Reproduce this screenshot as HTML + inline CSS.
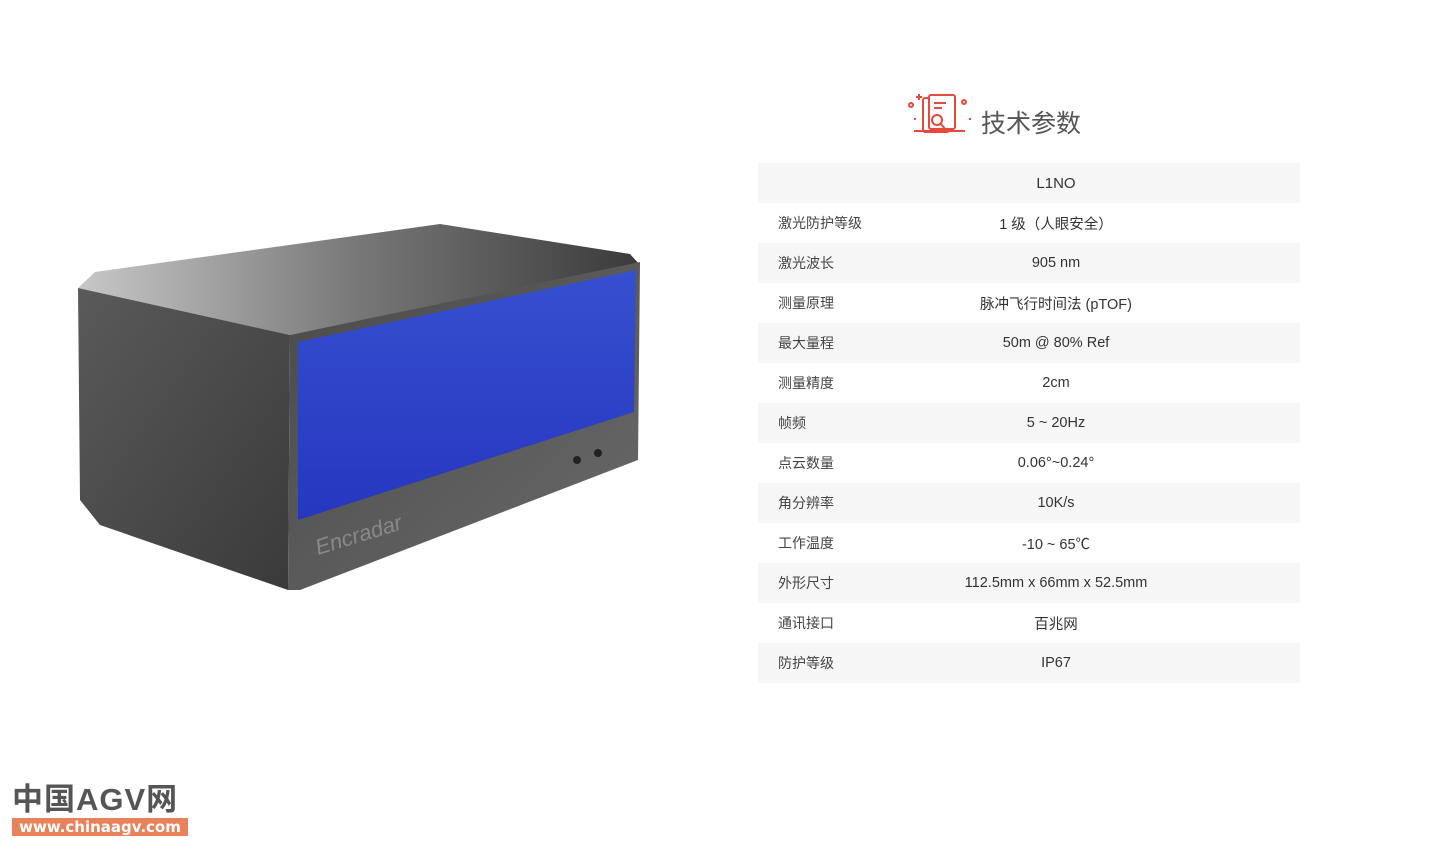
<!DOCTYPE html>
<html><head><meta charset="utf-8"><style>
body{margin:0;width:1440px;height:850px;background:#fff;position:relative;overflow:hidden;font-family:"Liberation Sans","Noto Sans CJK SC",sans-serif;}
.t{position:absolute;left:758px;top:163px;width:542px;}
.r{height:40px;display:flex;align-items:center;font-size:14px;color:#333;position:relative}
.r:nth-child(odd){background:#f6f6f6}
.l{width:188px;padding-left:20px;box-sizing:border-box;color:#444}
.v{position:absolute;left:0;width:596px;text-align:center;font-size:14.5px}
.title{position:absolute;left:981px;top:104px;font-size:25px;color:#555;font-family:"Noto Sans CJK SC",sans-serif;}
</style></head><body>
<svg style="position:absolute;left:905px;top:92px" width="70" height="46" viewBox="0 0 70 46">
<g stroke="#e8493f" fill="none" stroke-width="2">
<rect x="18" y="6" width="26" height="34" rx="2"/>
<rect x="24" y="3" width="26" height="34" rx="2" fill="#fff"/>
<line x1="29" y1="11" x2="41" y2="11"/><line x1="29" y1="16" x2="37" y2="16"/>
<circle cx="32" cy="28" r="5"/><line x1="36" y1="32" x2="41" y2="38"/>
<line x1="9" y1="39" x2="60" y2="39"/>
<circle cx="6" cy="13" r="2"/><circle cx="59" cy="10" r="2"/>
</g><g fill="#e8493f"><rect x="13" y="2" width="2" height="6"/><rect x="11" y="4" width="6" height="2"/><rect x="64" y="26" width="2" height="2"/><rect x="9" y="26" width="2" height="2"/></g>
</svg>
<div class="title">技术参数</div>
<svg style="position:absolute;left:0;top:0" width="700" height="620">
<defs>
<linearGradient id="top" x1="0" y1="0" x2="1" y2="0"><stop offset="0" stop-color="#c8c8c8"/><stop offset="0.5" stop-color="#777"/><stop offset="1" stop-color="#3a3a3a"/></linearGradient>
<linearGradient id="side" x1="0" y1="0" x2="1" y2="1"><stop offset="0" stop-color="#5a5a5a"/><stop offset="1" stop-color="#3a3a3a"/></linearGradient>
<linearGradient id="front" x1="0" y1="0" x2="1" y2="1"><stop offset="0" stop-color="#4a4a4a"/><stop offset="1" stop-color="#6a6a6a"/></linearGradient>
<linearGradient id="blue" x1="0" y1="0" x2="0" y2="1"><stop offset="0" stop-color="#3650d0"/><stop offset="1" stop-color="#2636c0"/></linearGradient>
</defs>
<polygon points="78,288 95,272 440,224 630,254 640,265 290,335" fill="url(#top)"/>
<polygon points="78,288 290,335 288,590 100,525 80,500" fill="url(#side)"/>
<polygon points="290,335 640,262 638,460 300,590 288,590" fill="url(#front)"/>
<polygon points="298,342 636,270 634,412 298,520" fill="url(#blue)"/>
<circle cx="577" cy="460" r="4" fill="#222"/><circle cx="598" cy="453" r="4" fill="#222"/>
<text x="318" y="555" transform="rotate(-17 318 555)" font-size="22" fill="#888" font-family="Liberation Sans" font-style="italic">Encradar</text>
</svg>
<div class="t">
<div class="r"><span class="v" style="font-size:15px">L1NO</span></div>
<div class="r"><span class="l">激光防护等级</span><span class="v">1 级（人眼安全）</span></div>
<div class="r"><span class="l">激光波长</span><span class="v">905 nm</span></div>
<div class="r"><span class="l">测量原理</span><span class="v">脉冲飞行时间法 (pTOF)</span></div>
<div class="r"><span class="l">最大量程</span><span class="v">50m @ 80% Ref</span></div>
<div class="r"><span class="l">测量精度</span><span class="v">2cm</span></div>
<div class="r"><span class="l">帧频</span><span class="v">5 ~ 20Hz</span></div>
<div class="r"><span class="l">点云数量</span><span class="v">0.06°~0.24°</span></div>
<div class="r"><span class="l">角分辨率</span><span class="v">10K/s</span></div>
<div class="r"><span class="l">工作温度</span><span class="v">-10 ~ 65℃</span></div>
<div class="r"><span class="l">外形尺寸</span><span class="v">112.5mm x 66mm x 52.5mm</span></div>
<div class="r"><span class="l">通讯接口</span><span class="v">百兆网</span></div>
<div class="r"><span class="l">防护等级</span><span class="v">IP67</span></div>
</div>
<div style="position:absolute;left:12px;top:782px;font-size:31px;font-weight:bold;color:#555;letter-spacing:1px;line-height:36px">中国AGV网</div>
<div style="position:absolute;left:12px;top:818px;width:176px;height:18px;background:#e8825a;color:#fff;font-size:15px;font-weight:bold;line-height:18px;text-align:center;font-family:'DejaVu Sans',sans-serif">www.chinaagv.com</div>
</body></html>
